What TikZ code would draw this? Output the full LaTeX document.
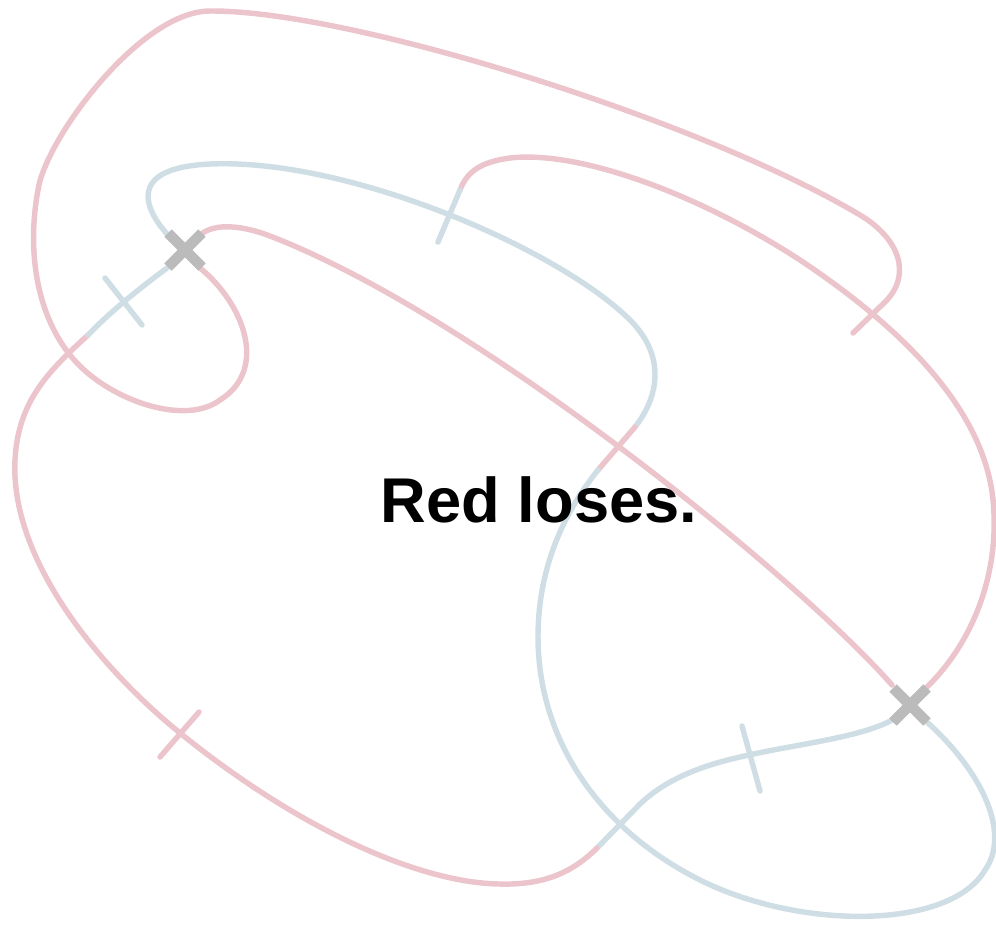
\documentclass[tikz,border=0pt]{standalone}
\usepackage{fontspec}
\setmainfont{Liberation Sans}
\definecolor{pinkc}{RGB}{236,196,204}
\definecolor{bluec}{RGB}{207,222,229}
\definecolor{grayc}{RGB}{187,187,187}
\tikzset{
  redline/.style={draw=pinkc, line width=3.1pt, line cap=round, line join=round},
  blueline/.style={draw=bluec, line width=3.1pt, line cap=round, line join=round},
  xmark/.style={draw=grayc, line width=6pt, line cap=butt}
}
\begin{document}
\begin{tikzpicture}[x=0.02cm, y=-0.02cm]
\useasboundingbox (0,0) rectangle (996,927);
% pink diagonal from X1 to X2
\draw[redline] (200,235) .. controls (215,222) and (244,226) .. (270,236)
  .. controls (480,317) and (800,580) .. (892,685);
% pink left loop and top arc
\draw[redline] (200,268) .. controls (245,305) and (268,370) .. (220,400)
  .. controls (190,422.5) and (130,407) .. (90,375)
  .. controls (40,335) and (25,260) .. (38,190)
  .. controls (45,140) and (140,11) .. (210,11)
  .. controls (350,10) and (700,120) .. (860,215)
  .. controls (900,239) and (912,275) .. (885,302) -- (853,333);
% pink from X2 round the right side
\draw[redline] (927,687) .. controls (975,640) and (1000,570) .. (993,500)
  .. controls (985,420) and (920,340) .. (800,260)
  .. controls (700,195) and (580,150) .. (510,158)
  .. controls (480,162) and (467,172) .. (460,190);
\draw[blueline] (460,190) -- (438,242);
% blue from X1 round the top
\draw[blueline] (168,235) .. controls (145,210) and (125,168) .. (210,164)
  .. controls (350,158) and (560,250) .. (630,320)
  .. controls (665,355) and (660,395) .. (635,427);
\draw[redline] (635,427) -- (598,470);
\draw[blueline] (598,470) .. controls (570,505) and (538,560) .. (538,637)
  .. controls (538,740) and (600,830) .. (700,880)
  .. controls (800,930) and (950,930) .. (985,870)
  .. controls (1010,835) and (985,775) .. (928,723);
% blue from X2 to the left
\draw[blueline] (892,720) .. controls (860,738) and (790,745) .. (740,757)
  .. controls (700,766) and (665,780) .. (640,804) -- (597,848);
\draw[redline] (597,848) .. controls (570,875) and (540,885) .. (500,884)
  .. controls (420,883) and (300,830) .. (180,733)
  .. controls (100,668) and (10,560) .. (15,460)
  .. controls (18,400) and (50,370) .. (88,335);
\draw[blueline] (88,335) .. controls (110,312) and (140,288) .. (167,268);
% ticks
\draw[redline] (160,757) -- (199,712);
\draw[blueline] (105,278) -- (142,325);
\draw[blueline] (742,726) -- (760,791);
% crosses
\node[inner sep=0pt] (x1) at (185,250) {};
\node[inner sep=0pt] (x2) at (910,705) {};
\draw[xmark] ([shift={(-17,-17)}]x1.center) -- ([shift={(17,17)}]x1.center);
\draw[xmark] ([shift={(-17,17)}]x1.center) -- ([shift={(17,-17)}]x1.center);
\draw[xmark] ([shift={(-17,-17)}]x2.center) -- ([shift={(17,17)}]x2.center);
\draw[xmark] ([shift={(-17,17)}]x2.center) -- ([shift={(17,-17)}]x2.center);
% text
\node[anchor=base, inner sep=0pt, font=\fontsize{36}{40}\selectfont\bfseries] (msg) at (539,522) {Red loses.};
\end{tikzpicture}
\end{document}
